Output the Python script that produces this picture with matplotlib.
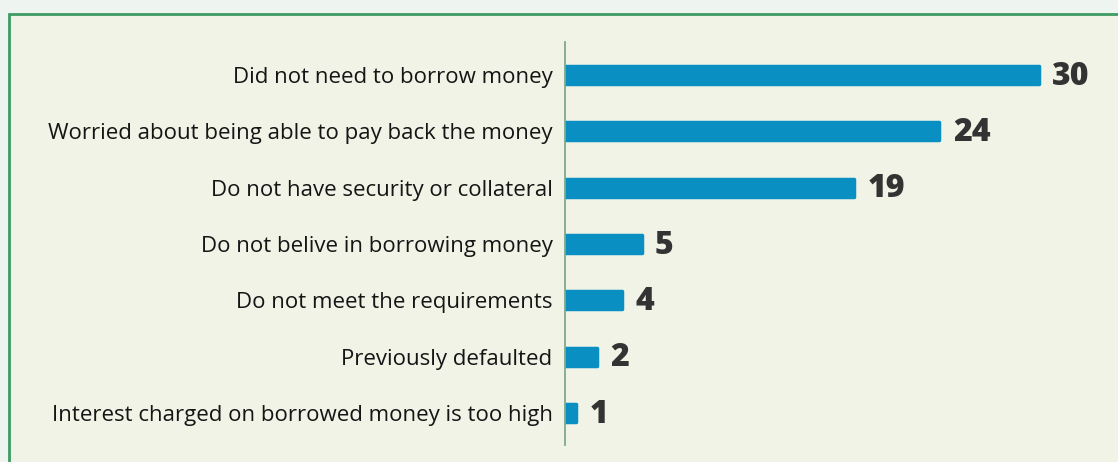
import matplotlib
matplotlib.use("Agg")
import matplotlib.pyplot as plt
from matplotlib.patches import Rectangle

# Data
reasons = [
    "Did not need to borrow money",
    "Worried about being able to pay back the money",
    "Do not have security or collateral",
    "Do not belive in borrowing money",
    "Do not meet the requirements",
    "Previously defaulted",
    "Interest charged on borrowed money is too high",
]
values = [30.0, 23.7, 18.3, 4.85, 3.6, 2.0, 0.7]   # bar lengths as drawn
labels = ["30", "24", "19", "5", "4", "2", "1"]    # printed values

# Colours
outer_bg = "#eef4ef"
panel_bg = "#f1f3e6"
border = "#3d9b63"
bar_color = "#0a8fc3"
axis_color = "#7fa98c"
value_color = "#333333"

fig = plt.figure(figsize=(11.18, 4.62), dpi=100)
fig.patch.set_facecolor(outer_bg)

# Panel with green border (runs off the right and bottom edges)
fig.patches.append(
    Rectangle((9 / 1118, -0.05), 1.2, 1 - 14 / 462 + 0.05,
              transform=fig.transFigure, facecolor=panel_bg,
              edgecolor=border, linewidth=2, zorder=-10)
)

ax = fig.add_axes([565 / 1118, 1 - 445 / 462, 1 - 565 / 1118, (445 - 42) / 462])
ax.set_zorder(5)
ax.set_facecolor("none")

ypos = list(range(len(reasons)))
bars = ax.barh(ypos, values, height=0.32, color=bar_color,
               edgecolor=bar_color, linewidth=2.5, joinstyle="round", zorder=2)

for b, lab in zip(bars, labels):
    ax.text(b.get_width() + 0.85, b.get_y() + b.get_height() / 2 + 0.03, lab,
            va="center", ha="left", fontsize=23, fontweight="extra bold",
            family="Open Sans", color=value_color)

ax.set_xlim(0, 35)
ax.set_ylim(len(reasons) - 1 + 0.57, -0.59)
ax.set_yticks(ypos)
ax.set_yticklabels(reasons, family="Open Sans", fontsize=16, color="#151515")
ax.tick_params(axis="y", length=0, pad=9)
ax.set_xticks([])

for s in ["top", "right", "bottom"]:
    ax.spines[s].set_visible(False)
ax.spines["left"].set_color(axis_color)
ax.spines["left"].set_linewidth(1.3)
ax.spines["left"].set_zorder(3)

fig.savefig("out.png", dpi=100, facecolor=fig.get_facecolor())
